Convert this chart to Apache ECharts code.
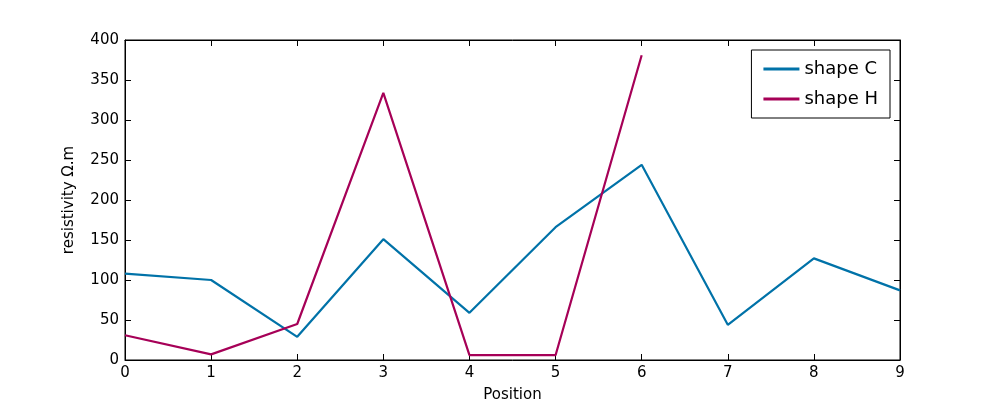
<!DOCTYPE html>
<html><head><meta charset="utf-8">
<script src="https://cdn.jsdelivr.net/npm/echarts@6/dist/echarts.min.js"></script>
<style>html,body{margin:0;padding:0;background:#fff}#c{width:1000px;height:400px}</style>
</head><body><div id="c"></div>
<script>
const positions=[0,1,2,3,4,5,6,7,8,9];
const shapeC=[108,100,29,151,59,166,244,44,127,87];
const shapeH=[31,7,45,334,6,6,381];
const yTicks=[0,50,100,150,200,250,300,350,400];
const chart=echarts.init(document.getElementById('c'));
const ax={show:true,onZero:false,lineStyle:{color:'#000',width:1}};
const tk={show:true,inside:true,length:6,lineStyle:{color:'#000'}};
const font={color:'#000',fontSize:15,fontFamily:'DejaVu Sans'};
chart.setOption({
 animation:false,
 grid:{left:125,right:100,top:40,bottom:40,outerBoundsMode:'none',containLabel:false,show:true,borderColor:'#000',borderWidth:1,backgroundColor:'transparent'},
 legend:{right:110,top:50,orient:'vertical',itemWidth:36,itemHeight:3,itemGap:12,
  padding:[10,12,10,12],borderColor:'#000',borderWidth:1,borderRadius:0,
  textStyle:{fontSize:18,fontFamily:'DejaVu Sans',color:'#000'},
  icon:'rect',data:['shape C','shape H']},
 xAxis:[{type:'value',min:0,max:9,interval:1,name:'Position',nameLocation:'middle',nameGap:28,
   nameTextStyle:font,axisLine:ax,axisTick:tk,
   axisLabel:Object.assign({margin:6},font),splitLine:{show:false}},
  {type:'value',min:0,max:9,interval:1,position:'top',axisLine:ax,axisTick:tk,axisLabel:{show:false},splitLine:{show:false}}],
 yAxis:[{type:'value',min:0,max:400,interval:50,name:'resistivity Ω.m',nameLocation:'middle',nameGap:48,
   nameTextStyle:font,axisLine:ax,axisTick:tk,
   axisLabel:Object.assign({margin:6,formatter:v=>yTicks.includes(v)?String(v):''},font),splitLine:{show:false}},
  {type:'value',min:0,max:400,interval:50,position:'right',axisLine:ax,axisTick:tk,axisLabel:{show:false},splitLine:{show:false}}],
 series:[
  {name:'shape C',type:'line',data:shapeC.map((v,i)=>[positions[i],v]),showSymbol:false,color:'#0072a8',lineStyle:{width:2.2,color:'#0072a8'}},
  {name:'shape H',type:'line',data:shapeH.map((v,i)=>[positions[i],v]),showSymbol:false,color:'#a60057',lineStyle:{width:2.2,color:'#a60057'}}
 ]
});
</script></body></html>
